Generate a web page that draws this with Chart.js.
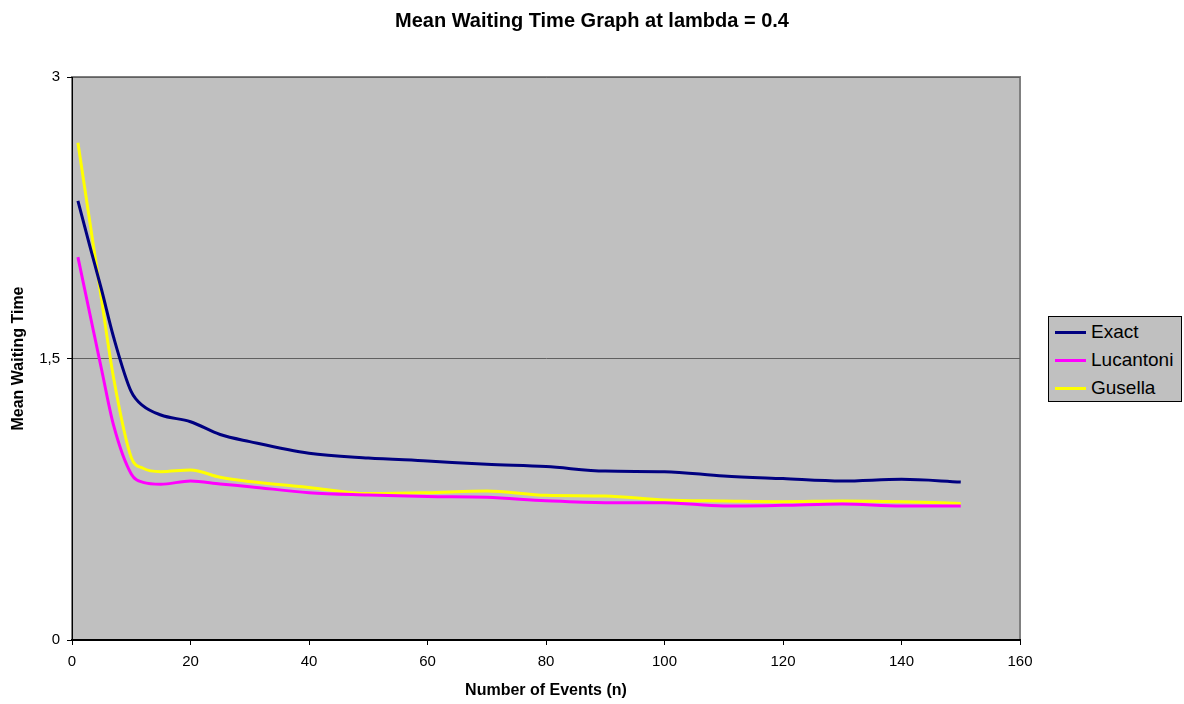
<!DOCTYPE html>
<html>
<head>
  <title>Mean Waiting Time Graph</title>
  <script src="https://cdn.jsdelivr.net/npm/chart.js"></script>
  <style>
    body {
      margin: 0;
      background: #fff;
      font-family: "Liberation Sans", Arial, sans-serif;
    }

    #wrap {
      position: relative;
      width: 1184px;
      height: 704px;
    }

    #title {
      position: absolute;
      left: 0;
      top: 8px;
      width: 1184px;
      text-align: center;
      font-weight: bold;
      font-size: 20px;
      line-height: 24px;
      color: #000;
    }

    #legend {
      position: absolute;
      left: 1048px;
      top: 316px;
      width: 132px;
      height: 83px;
      border: 1px solid #000;
      background: #c0c0c0;
      padding-top: 1px;
      box-sizing: content-box;
    }

    .row {
      display: flex;
      align-items: center;
      height: 28px;
      font-size: 19px;
      color: #000;
    }

    .swatch {
      width: 31px;
      height: 3px;
      margin-left: 6px;
      margin-right: 5px;
    }
  </style>
</head>
<body>
  <div id="wrap">
    <canvas id="chart" width="1184" height="704"></canvas>
    <div id="title">Mean Waiting Time Graph at lambda = 0.4</div>
    <div id="legend"></div>
  </div>

  <script>
    // values
    const nValues = [1, 3, 5, 7, 10, 12, 15, 20, 25, 30, 40, 50, 60, 70, 80, 90, 100, 110, 120, 130, 140, 150];
    const exact = [2.34, 2.10, 1.865, 1.616, 1.323, 1.247, 1.199, 1.163, 1.095, 1.057, 0.995, 0.970, 0.954, 0.936, 0.924, 0.900, 0.897, 0.874, 0.860, 0.847, 0.856, 0.842];
    const lucantoni = [2.04, 1.74, 1.44, 1.146, 0.885, 0.84, 0.83, 0.847, 0.831, 0.817, 0.785, 0.773, 0.764, 0.760, 0.742, 0.732, 0.732, 0.714, 0.718, 0.725, 0.714, 0.714];
    const gusella = [2.65, 2.23, 1.81, 1.40, 0.973, 0.915, 0.897, 0.906, 0.867, 0.844, 0.813, 0.780, 0.785, 0.794, 0.771, 0.767, 0.746, 0.741, 0.737, 0.741, 0.737, 0.728];
    const seriesNames = ["Exact", "Lucantoni", "Gusella"];
    const seriesColors = ["#000080", "#ff00ff", "#ffff00"];

    const font = "'Liberation Sans', Arial, sans-serif";

    function toPoints(values) {
      return nValues.map((n, i) => ({ x: n, y: values[i] }));
    }

    const plotBackground = {
      id: "plotBackground",
      beforeDraw(chart) {
        const { ctx, chartArea: a } = chart;
        ctx.save();
        ctx.fillStyle = "#c0c0c0";
        ctx.fillRect(a.left, a.top, a.right - a.left, a.bottom - a.top);
        ctx.strokeStyle = "#808080";
        ctx.lineWidth = 2;
        ctx.strokeRect(a.left, a.top, a.right - a.left, a.bottom - a.top);
        ctx.restore();
      }
    };

    const datasets = [exact, lucantoni, gusella].map((values, i) => ({
      label: seriesNames[i],
      data: toPoints(values),
      borderColor: seriesColors[i],
      backgroundColor: seriesColors[i],
      borderWidth: 3,
      pointRadius: 0,
      cubicInterpolationMode: "monotone",
      fill: false
    }));

    const chart = new Chart(document.getElementById("chart").getContext("2d"), {
      type: "line",
      data: { datasets: datasets },
      plugins: [plotBackground],
      options: {
        responsive: false,
        animation: false,
        layout: { padding: { left: 0, right: 164, top: 77, bottom: 0 } },
        plugins: {
          legend: { display: false },
          title: { display: false },
          tooltip: { enabled: false }
        },
        scales: {
          x: {
            type: "linear",
            min: 0,
            max: 160,
            afterFit(scale) { scale.height = 64; },
            ticks: {
              stepSize: 20,
              color: "#000",
              padding: 8,
              font: { family: font, size: 15 },
              maxRotation: 0
            },
            grid: {
              drawOnChartArea: false,
              drawTicks: true,
              tickLength: 5,
              tickColor: "#000"
            },
            border: { color: "#000", width: 2 },
            title: {
              display: true,
              text: "Number of Events (n)",
              color: "#000",
              font: { family: font, size: 16, weight: "bold" },
              padding: { top: 9, bottom: 4 }
            }
          },
          y: {
            min: 0,
            max: 3,
            afterFit(scale) { scale.width = 72; },
            ticks: {
              stepSize: 1.5,
              color: "#000",
              padding: 7,
              font: { family: font, size: 15 },
              callback: v => String(v).replace(".", ",")
            },
            grid: {
              color: "#606060",
              lineWidth: 1,
              tickLength: 5,
              tickColor: "#000"
            },
            border: { color: "#000", width: 1 },
            title: {
              display: true,
              text: "Mean Waiting Time",
              color: "#000",
              font: { family: font, size: 16, weight: "bold" },
              padding: { top: 9, bottom: 10 }
            }
          }
        }
      }
    });

    // legend box on the right, built from the datasets
    const legend = document.getElementById("legend");
    chart.data.datasets.forEach(ds => {
      const row = document.createElement("div");
      row.className = "row";
      const sw = document.createElement("span");
      sw.className = "swatch";
      sw.style.background = ds.borderColor;
      const label = document.createElement("span");
      label.textContent = ds.label;
      row.appendChild(sw);
      row.appendChild(label);
      legend.appendChild(row);
    });
  </script>
</body>
</html>
